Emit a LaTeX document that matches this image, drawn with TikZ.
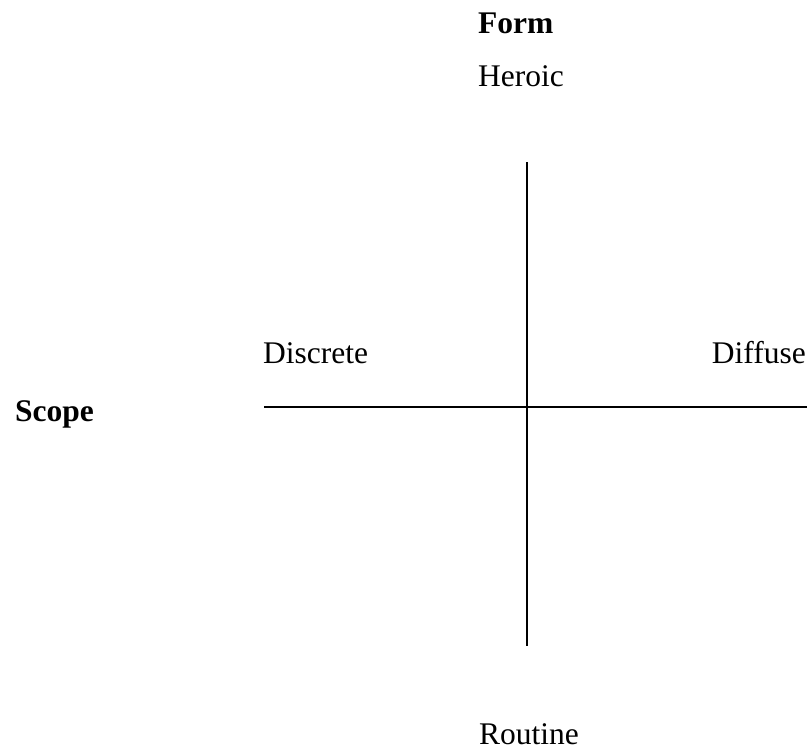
\documentclass[tikz,border=0pt]{standalone}
\usepackage{fontspec}
\setmainfont{Liberation Serif}
\usetikzlibrary{positioning}

\begin{document}
\begin{tikzpicture}[x=1pt, y=-1pt, font=\fontsize{31.5}{38}\selectfont,
  label/.style={inner sep=0pt, anchor=base west},
  axislabel/.style={label, font=\fontsize{31.5}{38}\selectfont\bfseries},
  axis/.style={line width=1.5pt}]
  \useasboundingbox (0,0) rectangle (807,752);
  \node[axislabel] (form)     at (478,34)  {Form};
  \node[label]     (heroic)   at (478,87)  {Heroic};
  \node[label]     (discrete) at (263,363) {Discrete};
  \node[label, anchor=base east] (diffuse) at (806,363) {Diffuse};
  \node[axislabel] (scope)    at (15,421)  {Scope};
  \node[label, text depth=0pt] (routine) at (479,744) {Routine};
  \coordinate (top)    at (527,162);
  \coordinate (bottom) at (527,646);
  \coordinate (left)   at (264,407);
  \coordinate (right)  at (807,407);
  \draw[axis] (top) -- (bottom);
  \draw[axis] (left) -- (right);
\end{tikzpicture}
\end{document}
